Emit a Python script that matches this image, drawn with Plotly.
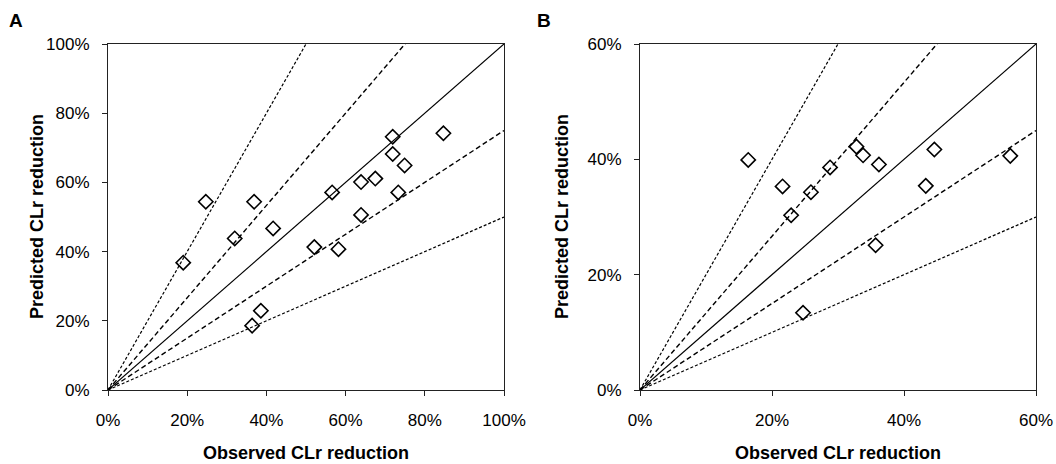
import plotly.graph_objects as go

# Panel A data (observed vs predicted CLr reduction, %)
obs_a = [19.0, 24.7, 32.0, 36.9, 41.7, 36.4, 38.6, 52.1, 58.2, 56.6, 63.9, 63.9, 67.5, 71.9, 71.9, 74.9, 73.3, 84.7]
pred_a = [36.8, 54.4, 43.8, 54.4, 46.7, 18.6, 22.9, 41.3, 40.7, 57.1, 60.1, 50.6, 61.1, 73.2, 68.2, 64.9, 57.1, 74.2]

# Panel B data
obs_b = [16.4, 21.6, 22.9, 25.9, 28.8, 32.8, 33.8, 36.2, 35.7, 24.7, 43.3, 44.6, 56.1]
pred_b = [39.9, 35.3, 30.3, 34.3, 38.6, 42.2, 40.7, 39.1, 25.1, 13.4, 35.4, 41.7, 40.6]

# Reference lines y = k * x
ref_slopes = [2.0, 4/3, 1.0, 0.75, 0.5]
ref_dashes = ["3px,2px", "5px,3px", "solid", "5px,3px", "3px,2px"]
ref_widths = [1.2, 1.4, 1.2, 1.4, 1.2]

tick_a = [0, 20, 40, 60, 80, 100]
tick_a_text = ["0%", "20%", "40%", "60%", "80%", "100%"]
tick_b = [0, 20, 40, 60]
tick_b_text = ["0%", "20%", "40%", "60%"]

fig = go.Figure()

def add_panel(xa, ya, xs, ys, vmax):
    for k, d, w in zip(ref_slopes, ref_dashes, ref_widths):
        fig.add_trace(go.Scatter(x=[0, vmax], y=[0, k * vmax], mode="lines",
                                 line=dict(color="black", width=w, dash=d),
                                 xaxis=xa, yaxis=ya, showlegend=False, hoverinfo="skip"))
    fig.add_trace(go.Scatter(x=xs, y=ys, mode="markers",
                             marker=dict(symbol="diamond-open", size=11, color="black",
                                         line=dict(width=1.6, color="black")),
                             xaxis=xa, yaxis=ya, showlegend=False, cliponaxis=False))

add_panel("x", "y", obs_a, pred_a, 100)
add_panel("x2", "y2", obs_b, pred_b, 60)

W, H = 1056, 464
ax_common = dict(showgrid=False, zeroline=False, showline=True, linecolor="#222", linewidth=1.2,
                 mirror=True, ticks="outside", ticklen=5, tickcolor="#222", tickwidth=1.2,
                 tickfont=dict(family="Liberation Sans, Arial", size=17, color="black"),
                 automargin=False, tickmode="array")
y0 = 1 - 390 / H
y1 = 1 - 44 / H
fig.update_layout(
    width=W, height=H, margin=dict(l=0, r=0, t=0, b=0),
    paper_bgcolor="white", plot_bgcolor="white",
    xaxis=dict(domain=[108 / W, 504 / W], range=[0, 100], tickvals=tick_a, ticktext=tick_a_text,
               anchor="y", ticklabelstandoff=9, **ax_common),
    yaxis=dict(domain=[y0, y1], range=[0, 100], tickvals=tick_a, ticktext=tick_a_text,
               anchor="x", ticklabelstandoff=9, **ax_common),
    xaxis2=dict(domain=[640 / W, 1036 / W], range=[0, 60], tickvals=tick_b, ticktext=tick_b_text,
                anchor="y2", ticklabelstandoff=9, **ax_common),
    yaxis2=dict(domain=[y0, y1], range=[0, 60], tickvals=tick_b, ticktext=tick_b_text,
                anchor="x2", ticklabelstandoff=9, **ax_common),
)

title_font = dict(family="Liberation Sans, Arial", size=18, color="black")
anns = [
    dict(text="<b>A</b>", x=16 / W, y=1 - 20 / H, font=dict(family="Liberation Sans, Arial", size=19, color="black")),
    dict(text="<b>B</b>", x=544 / W, y=1 - 20 / H, font=dict(family="Liberation Sans, Arial", size=19, color="black")),
    dict(text="<b>Observed CLr reduction</b>", x=306 / W, y=1 - 453 / H, font=title_font),
    dict(text="<b>Observed CLr reduction</b>", x=838 / W, y=1 - 453 / H, font=title_font),
    dict(text="<b>Predicted CLr reduction</b>", x=37 / W, y=1 - 217 / H, textangle=-90, font=title_font),
    dict(text="<b>Predicted CLr reduction</b>", x=562 / W, y=1 - 217 / H, textangle=-90, font=title_font),
]
for a in anns:
    fig.add_annotation(xref="paper", yref="paper", xanchor="center", yanchor="middle",
                       showarrow=False, **a)

fig.write_html("out.html", config={"displayModeBar": False},
               post_script="document.body.style.margin='0px';document.body.style.overflow='hidden';")
